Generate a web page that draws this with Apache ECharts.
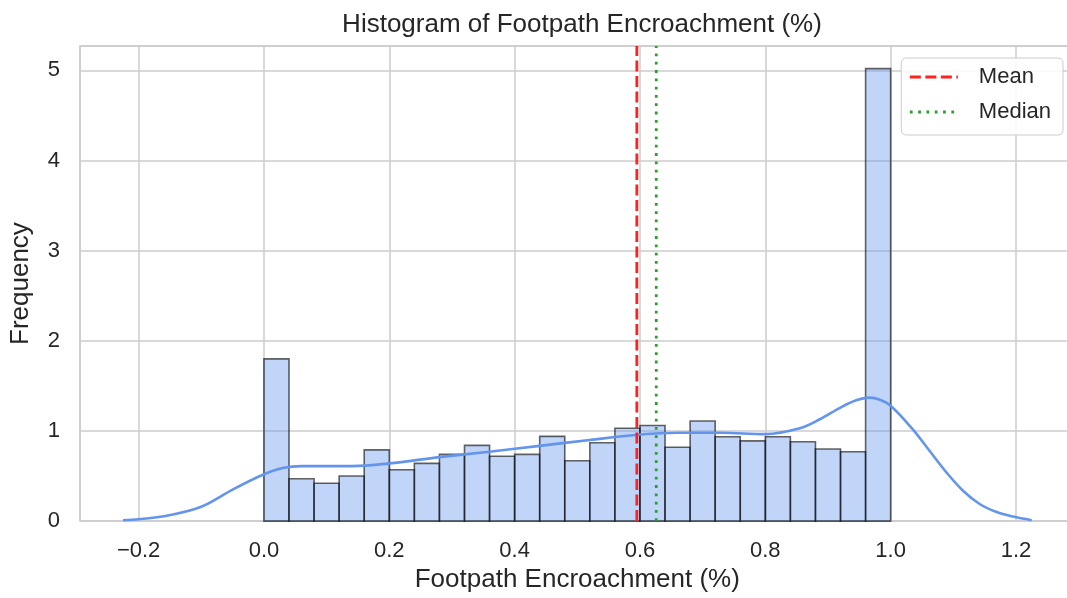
<!DOCTYPE html>
<html>
<head>
<meta charset="utf-8">
<script src="https://cdn.jsdelivr.net/npm/echarts@6/dist/echarts.min.js"></script>
<style>
  html, body { margin: 0; padding: 0; background: #ffffff; overflow: hidden; }
  /* the plot frame runs slightly past the right edge of the window */
  #chart { width: 1080px; height: 598px; }
</style>
</head>
<body>
<div id="chart"></div>
<script>
// Histogram bin edges (25 bins) and density of each bin
const binEdges = [0.00, 0.04, 0.08, 0.12, 0.16, 0.20, 0.24, 0.28, 0.32, 0.36, 0.40, 0.44, 0.48,
                  0.52, 0.56, 0.60, 0.64, 0.68, 0.72, 0.76, 0.80, 0.84, 0.88, 0.92, 0.96, 1.00];
const binDensity = [1.80, 0.47, 0.42, 0.50, 0.79, 0.57, 0.64, 0.74, 0.84, 0.72, 0.74, 0.94, 0.67,
                    0.87, 1.03, 1.06, 0.82, 1.11, 0.935, 0.89, 0.935, 0.88, 0.80, 0.77, 5.02];

// Kernel density estimate curve
const kdeX = [-0.225, -0.20, -0.155, -0.10, -0.05, 0.00, 0.03, 0.06, 0.10, 0.14, 0.20, 0.28, 0.36,
              0.44, 0.52, 0.60, 0.66, 0.73, 0.80, 0.855, 0.887, 0.92, 0.945, 0.966, 0.982, 1.00,
              1.035, 1.062, 1.089, 1.115, 1.142, 1.169, 1.195, 1.225];
const kdeY = [0.01, 0.02, 0.06, 0.16, 0.35, 0.52, 0.59, 0.61, 0.61, 0.61, 0.64, 0.71, 0.77,
              0.835, 0.90, 0.96, 0.98, 0.98, 0.965, 1.03, 1.13, 1.26, 1.34, 1.37, 1.35, 1.28,
              1.02, 0.78, 0.54, 0.34, 0.19, 0.10, 0.05, 0.01];

const meanValue = 0.595;
const medianValue = 0.626;

const xRange = [-0.2935, 1.2935];
const yRange = [0, 5.271];

const FONT = '"Liberation Sans", Arial, sans-serif';
const TEXT = '#262626';
const GRID = '#cccccc';

const histData = binDensity.map((d, i) => [binEdges[i], binEdges[i + 1], d]);
const kdeData = kdeX.map((x, i) => [x, kdeY[i]]);

const chart = echarts.init(document.getElementById('chart'), null, { renderer: 'canvas' });

chart.setOption({
  animation: false,
  backgroundColor: '#ffffff',
  textStyle: { fontFamily: FONT, color: TEXT },
  title: {
    text: 'Histogram of Footpath Encroachment (%)',
    left: 577,
    top: 7,
    textAlign: 'center',
    textStyle: { fontFamily: FONT, fontSize: 26, fontWeight: 'normal', color: TEXT }
  },
  grid: {
    left: 80,
    top: 46,
    width: 994.6,
    height: 476,
    show: true,
    borderColor: GRID,
    borderWidth: 1.5,
    containLabel: false
  },
  legend: {
    data: ['Mean', 'Median'],
    orient: 'vertical',
    right: 17,
    top: 58,
    padding: [7, 12, 11, 7],
    itemWidth: 48,
    itemHeight: 24,
    itemGap: 11,
    itemStyle: { opacity: 0 },
    lineStyle: { width: 3.2 },
    backgroundColor: 'rgba(255,255,255,0.85)',
    borderColor: '#cccccc',
    borderWidth: 1,
    borderRadius: 5,
    textStyle: { fontFamily: FONT, fontSize: 22, color: TEXT, lineHeight: 24, padding: [0, 0, 0, 16] }
  },
  xAxis: {
    type: 'value',
    min: xRange[0],
    max: xRange[1],
    splitNumber: 8,
    name: 'Footpath Encroachment (%)',
    nameLocation: 'middle',
    nameGap: 44,
    nameTextStyle: { fontFamily: FONT, fontSize: 26, color: TEXT },
    axisLine: { show: false },
    axisTick: { show: false },
    axisLabel: {
      fontFamily: FONT, fontSize: 22, color: TEXT, margin: 19,
      showMinLabel: false, showMaxLabel: false,
      formatter: v => {
        const r = Math.round(v * 10) / 10;
        if (Math.abs(v - r) > 1e-6) return '';
        return r.toFixed(1).replace('-', '\u2212');
      }
    },
    splitLine: { show: true, lineStyle: { color: GRID, width: 1.5 } }
  },
  yAxis: {
    type: 'value',
    min: yRange[0],
    max: yRange[1],
    interval: 1,
    name: 'Frequency',
    nameLocation: 'middle',
    nameGap: 46,
    nameTextStyle: { fontFamily: FONT, fontSize: 26, color: TEXT },
    axisLine: { show: false },
    axisTick: { show: false },
    axisLabel: {
      fontFamily: FONT, fontSize: 22, color: TEXT, margin: 20,
      formatter: v => (Math.abs(v - Math.round(v)) < 1e-6 ? String(Math.round(v)) : '')
    },
    splitLine: { show: true, lineStyle: { color: GRID, width: 1.5 } }
  },
  series: [
    {
      name: 'Histogram',
      type: 'custom',
      z: 2,
      data: histData,
      encode: { x: [0, 1], y: 2 },
      renderItem: (params, api) => {
        const p0 = api.coord([api.value(0), api.value(2)]);
        const p1 = api.coord([api.value(1), 0]);
        return {
          type: 'rect',
          shape: { x: p0[0], y: p0[1], width: p1[0] - p0[0], height: p1[1] - p0[1] },
          style: { fill: 'rgba(100,149,237,0.4)', stroke: 'rgba(0,0,0,0.6)', lineWidth: 1.6 }
        };
      }
    },
    {
      name: 'KDE',
      type: 'line',
      z: 3,
      data: kdeData,
      smooth: 0.35,
      symbol: 'none',
      lineStyle: { color: '#6495ED', width: 2.6 },
      itemStyle: { color: '#6495ED' }
    },
    {
      name: 'Mean',
      type: 'line',
      z: 4,
      data: [[meanValue, yRange[0]], [meanValue, yRange[1]]],
      symbol: 'none',
      lineStyle: { color: '#ff2020', width: 2.8, type: [11, 4.5] },
      itemStyle: { color: '#ff2020' }
    },
    {
      name: 'Median',
      type: 'line',
      z: 4,
      data: [[medianValue, yRange[0]], [medianValue, yRange[1]]],
      symbol: 'none',
      lineStyle: { color: '#2ca02c', width: 2.8, type: [2.8, 5.5] },
      itemStyle: { color: '#2ca02c' }
    }
  ]
});
</script>
</body>
</html>
